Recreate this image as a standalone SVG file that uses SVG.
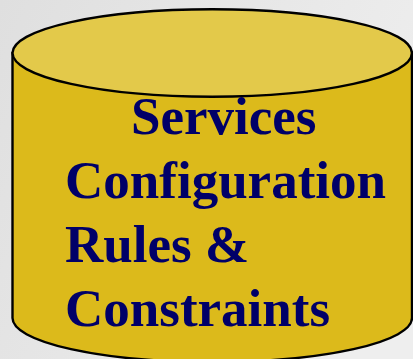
<svg xmlns="http://www.w3.org/2000/svg" width="413" height="359" viewBox="0 0 413 359">
<style>
.s{stroke:#000;stroke-width:2.4;}
.t{font-family:"Liberation Serif","Times New Roman",serif;font-weight:bold;font-size:53px;fill:#000068;}
</style>
<defs><linearGradient id="bg" x1="0" y1="0" x2="1" y2="0.4"><stop offset="0" stop-color="#dfdfdf"/><stop offset="1" stop-color="#eeeeee"/></linearGradient></defs>
<rect width="413" height="359" fill="url(#bg)"/>
<g id="cylinder">
<path class="s" fill="#dcba1b" d="M12.5 53V318A199.7 44 0 0 0 412 318V53Z"/>
<ellipse class="s" fill="#e3c94a" cx="212.2" cy="53" rx="199.7" ry="43.7"/>
</g>
<g id="label">
<text class="t" x="131" y="134">Services</text>
<text class="t" x="65" y="198">Configuration</text>
<text class="t" x="65" y="262">Rules &amp;</text>
<text class="t" x="65" y="326">Constraints</text>
</g>
</svg>
